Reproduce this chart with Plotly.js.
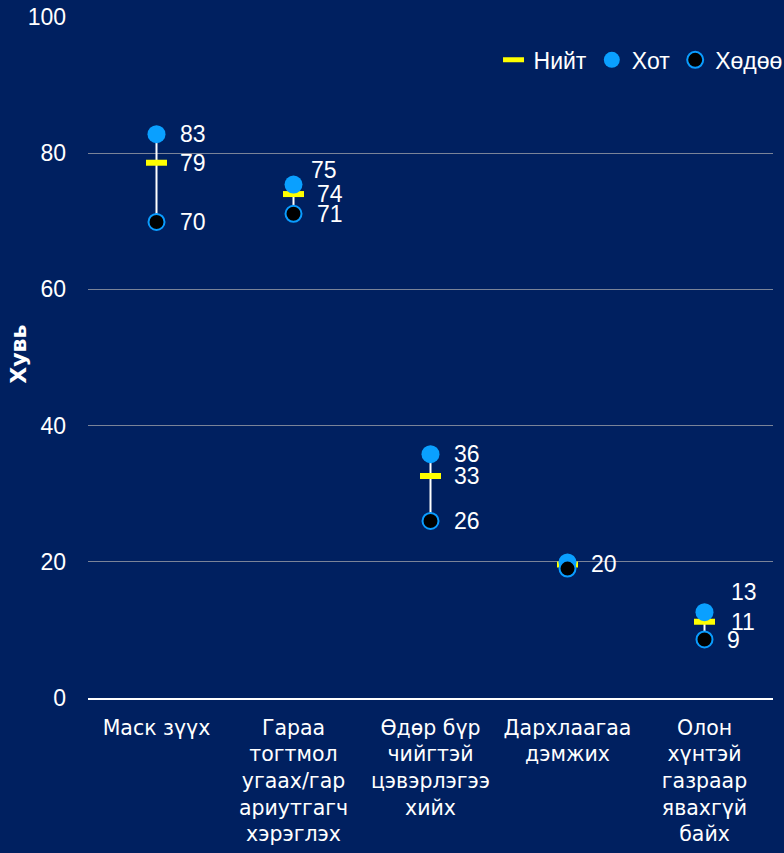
<!DOCTYPE html>
<html>
<head>
<meta charset="utf-8">
<script src="https://cdn.plot.ly/plotly-3.0.1.min.js"></script>
<style>html,body{margin:0;padding:0;background:#002060;}</style>
</head>
<body>
<div id="chart" style="width:784px;height:853px;"></div>
<script>
const categories = [
  "Маск зүүх",
  "Гараа<br>тогтмол<br>угаах/гар<br>ариутгагч<br>хэрэглэх",
  "Өдөр бүр<br>чийгтэй<br>цэвэрлэгээ<br>хийх",
  "Дархлаагаа<br>дэмжих",
  "Олон<br>хүнтэй<br>газраар<br>явахгүй<br>байх"
];
const totalVals = [78.6, 74.0, 32.6, 19.6, 11.2];   // Нийт
const cityVals  = [82.8, 75.4, 35.8, 19.9, 12.6];   // Хот
const ruralVals = [69.9, 71.1, 26.0, 19.0, 8.6];    // Хөдөө
const seriesNames = ["Нийт", "Хот", "Хөдөө"];
const yTicks = [0, 20, 40, 60, 80, 100];
const yTitle = "Хувь";

const idx = categories.map((c, i) => i);

// connector lines between city and rural
const lx = [], ly = [];
idx.forEach(i => { lx.push(i, i, null); ly.push(cityVals[i], ruralVals[i], null); });

const traces = [
  {x: lx, y: ly, mode: 'lines', line: {color: '#ffffff', width: 2}, showlegend: false, hoverinfo: 'skip'},
  {x: idx, y: totalVals, name: seriesNames[0], mode: 'markers',
   marker: {symbol: 'line-ew', size: 15, line: {color: '#ffff00', width: 6}, color: '#ffff00'}},
  {x: idx, y: cityVals, name: seriesNames[1], mode: 'markers',
   marker: {symbol: 'circle', size: 18, color: '#0aa0ff', line: {width: 0}}},
  {x: idx, y: ruralVals, name: seriesNames[2], mode: 'markers',
   marker: {symbol: 'circle', size: 16, color: '#000000', line: {color: '#0a9cff', width: 2}}}
];

const fam = 'Liberation Sans, Arial, sans-serif';
const labelFont = {family: fam, size: 23, color: '#ffffff'};
const annotations = [];
function addLabel(i, v, dx, dy) {
  annotations.push({x: i, y: v, xref: 'x', yref: 'y', text: String(Math.round(v)),
    showarrow: false, xanchor: 'left', yanchor: 'middle', xshift: dx, yshift: dy, font: labelFont});
}
const cityShift = [[21, 0], [15, 15], [21, 0], [21, -2], [24, 20]];
const totalShift = [[21, 0], [21, 0], [21, 0], null, [24, 0]];
const ruralShift = [[21, 0], [21, 0], [21, 0], null, [20, -1]];
idx.forEach(i => {
  addLabel(i, cityVals[i], cityShift[i][0], cityShift[i][1]);
  if (totalShift[i]) addLabel(i, totalVals[i], totalShift[i][0], totalShift[i][1]);
  if (ruralShift[i]) addLabel(i, ruralVals[i], ruralShift[i][0], ruralShift[i][1]);
});
// y-axis title
annotations.push({xref: 'paper', yref: 'paper', x: -0.1007, y: 0.504, text: '<b>' + yTitle + '</b>',
  textangle: -90, showarrow: false, xanchor: 'center', yanchor: 'middle',
  font: {family: 'DejaVu Sans, sans-serif', size: 22, color: '#ffffff'}});

const font = {family: fam, size: 23, color: '#ffffff'};

const layout = {
  width: 784, height: 853,
  paper_bgcolor: '#002060', plot_bgcolor: '#002060',
  margin: {l: 88, r: 11, t: 17, b: 155, autoexpand: false},
  font: font,
  showlegend: true,
  legend: {orientation: 'h', x: 0.592, y: 0.937, xanchor: 'left', yanchor: 'middle',
    bgcolor: 'rgba(0,0,0,0)', font: font, itemwidth: 30},
  xaxis: {
    type: 'linear', range: [-0.5, 4.5], tickmode: 'array', tickvals: idx, ticktext: categories,
    showgrid: false, zeroline: false, showline: true, linecolor: '#ffffff', linewidth: 2,
    ticks: '', tickfont: {family: 'DejaVu Sans, sans-serif', size: 20.5, color: '#ffffff'},
    ticklabelstandoff: 10, fixedrange: true
  },
  yaxis: {
    range: [0, 100], tickvals: yTicks, showgrid: true, gridcolor: '#7a8398', gridwidth: 1,
    zeroline: false, showline: false, ticks: '', tickfont: font, ticklabelstandoff: 21
  },
  annotations: annotations
};

Plotly.newPlot('chart', traces, layout, {displayModeBar: false, staticPlot: true});
</script>
</body>
</html>
